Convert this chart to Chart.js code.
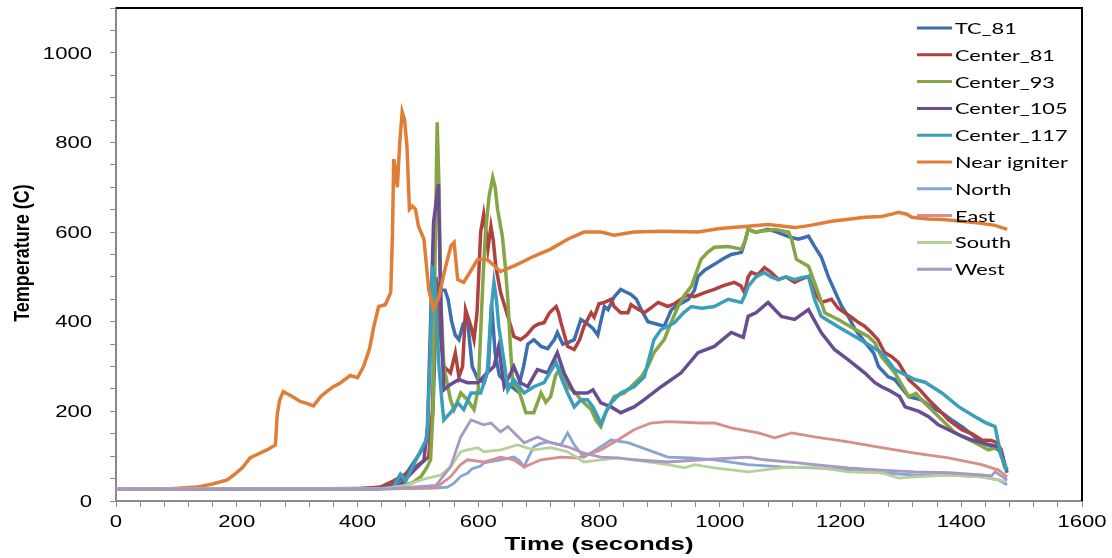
<!DOCTYPE html>
<html>
<head>
<meta charset="utf-8">
<script src="https://cdn.jsdelivr.net/npm/chart.js@4"></script>
<style>
  body { margin: 0; background: #fff; }
  #wrap { width: 1112px; height: 558px; }
</style>
</head>
<body>
<div id="wrap"><canvas id="temps"></canvas></div>
<script>
// series names and colours
const labels = ['TC_81', 'Center_81', 'Center_93', 'Center_105', 'Center_117', 'Near igniter', 'North', 'East', 'South', 'West'];
const colors = ['#3D6EB0', '#B0413E', '#86A544', '#6A4C93', '#3A9FBA', '#E07E37', '#86A6D6', '#D68F8D', '#B7D09A', '#A898C2'];

// time (s) / temperature (C)
const tc81T = [0,100,200,300,400,430,450,465,480,495,505,515,520,525,530,535,540,545,550,556,562,568,575,582,590,600,610,617,622,628,635,645,655,665,675,682,692,704,715,726,731,740,748,759,770,781,790,798,803,809,815,825,836,842,853,862,870,881,895,908,920,935,948,958,964,975,991,1005,1019,1030,1036,1042,1047,1060,1080,1095,1114,1130,1140,1147,1157,1168,1180,1190,1202,1213,1224,1240,1255,1263,1279,1290,1313,1334,1350,1368,1385,1401,1418,1434,1450,1462,1468,1476];
const tc81V = [27,27,27,27,28,29,32,40,60,90,110,135,150,200,420,480,470,470,450,400,370,360,395,405,300,270,265,300,440,330,280,265,255,245,300,350,360,345,340,360,376,350,353,360,405,395,385,370,400,434,427,455,472,468,461,450,427,400,395,390,427,440,450,470,501,515,528,540,550,553,555,580,606,600,606,600,590,584,588,591,568,545,500,470,434,412,383,355,330,300,277,271,233,226,210,197,180,166,148,130,122,114,100,63];

const c81T = [0,400,438,460,483,505,518,524,530,536,543,554,562,568,574,579,588,593,598,604,609,613,616,621,625,629,637,649,659,670,680,692,700,709,718,729,733,737,748,759,768,775,787,792,800,809,820,825,836,848,853,862,875,885,898,914,925,936,946,958,975,991,1005,1024,1035,1041,1047,1052,1063,1074,1085,1097,1110,1124,1135,1147,1157,1168,1185,1196,1207,1218,1230,1240,1251,1262,1273,1285,1296,1313,1330,1346,1362,1379,1401,1418,1434,1450,1459,1466,1473];
const c81V = [27,27,31,45,63,85,98,200,500,380,300,286,330,277,300,427,389,360,420,600,640,600,562,613,580,524,465,412,367,360,370,389,395,398,420,434,420,398,345,338,360,389,420,410,440,443,450,434,420,420,438,430,420,430,443,434,440,450,460,456,465,472,480,488,480,465,500,510,505,521,510,494,500,488,495,501,465,443,450,430,420,410,398,390,376,360,331,322,309,271,250,226,205,181,159,150,136,135,130,115,76];

const c93T = [0,430,460,490,505,515,521,525,528,532,535,538,543,554,560,571,582,593,600,604,608,612,618,624,628,632,640,645,649,653,657,667,679,692,704,712,720,728,737,748,759,770,787,795,803,812,825,842,853,870,881,891,908,920,931,942,953,969,980,991,1014,1036,1042,1047,1058,1069,1091,1114,1119,1127,1147,1163,1174,1196,1224,1246,1257,1268,1290,1313,1325,1334,1356,1390,1423,1445,1462,1468,1473];
const c93V = [27,27,30,40,54,75,92,200,500,845,700,450,300,226,204,241,226,204,250,376,500,600,680,722,700,651,590,520,450,350,264,248,197,197,241,220,233,280,300,255,245,226,204,180,166,200,233,241,255,277,300,331,360,400,434,460,479,539,555,566,568,562,580,606,600,602,606,600,584,539,524,465,420,405,383,367,353,322,286,233,240,226,197,152,130,114,121,95,70];

const c105T = [0,430,470,495,510,516,526,534,537,540,543,554,568,582,599,615,626,634,643,659,670,682,698,715,731,742,759,781,790,803,820,836,858,875,903,936,964,991,1019,1039,1047,1060,1080,1102,1124,1147,1168,1190,1213,1240,1257,1268,1279,1298,1307,1330,1346,1362,1379,1400,1418,1440,1462,1468,1473];
const c105V = [27,27,35,70,90,166,622,707,500,350,248,260,271,264,264,286,300,345,255,300,264,255,293,286,331,286,241,241,248,219,210,197,210,226,255,286,331,345,376,365,412,420,443,412,405,427,376,338,315,286,264,255,248,233,210,200,188,170,159,145,136,128,121,100,76];

const c117T = [0,430,460,465,471,480,500,515,520,524,526,530,535,540,543,554,566,576,588,604,615,621,626,630,634,643,649,659,676,692,709,720,729,737,748,759,770,781,790,798,803,812,820,836,858,875,891,903,914,925,940,953,970,991,1014,1036,1042,1047,1060,1074,1085,1097,1110,1124,1135,1147,1157,1168,1196,1224,1251,1268,1290,1323,1340,1368,1396,1423,1440,1456,1466,1476];
const c117V = [27,27,30,45,60,45,100,140,300,520,517,440,300,220,181,197,219,204,241,241,286,420,488,450,389,309,248,271,241,255,264,290,309,277,241,210,226,226,210,188,172,200,219,241,255,277,360,383,390,398,420,434,430,434,450,443,460,479,500,510,500,494,500,494,498,501,450,412,389,367,345,331,293,271,265,241,210,188,175,166,100,70];

const igniterT = [0,85,134,160,184,195,210,222,237,250,264,267,271,277,285,292,305,316,327,339,350,360,372,388,400,410,420,427,435,446,455,458,460,463,466,470,474,478,482,486,491,496,501,510,518,526,535,542,549,555,560,566,576,587,599,615,637,665,692,720,748,775,803,825,858,903,964,1000,1047,1080,1124,1150,1185,1210,1240,1268,1285,1296,1310,1318,1346,1370,1401,1430,1456,1476];
const igniterV = [27,27,31,38,47,58,75,96,106,114,125,192,225,244,238,233,222,218,212,233,245,255,264,280,275,300,340,389,434,438,465,600,763,740,700,800,868,850,790,651,658,651,613,584,472,427,456,500,539,570,577,494,488,512,539,539,512,528,546,562,584,600,600,593,600,602,600,608,613,617,610,615,624,628,633,635,640,644,640,633,629,628,624,620,615,606];

const northT = [0,450,530,549,560,571,582,590,604,609,637,659,668,676,684,692,703,715,737,748,759,775,790,803,820,848,881,914,953,991,1047,1102,1157,1213,1268,1323,1379,1434,1462,1476];
const northV = [27,27,29,31,40,55,62,72,78,85,92,98,90,76,100,121,128,132,125,152,125,98,110,121,136,130,114,98,96,92,81,76,74,69,63,58,58,54,47,36];

const eastT = [0,450,530,554,570,582,609,637,659,676,704,737,765,803,831,858,886,914,969,991,1019,1064,1091,1119,1157,1213,1268,1323,1379,1434,1462,1476];
const eastV = [27,27,30,54,80,92,87,98,92,76,92,98,96,114,136,159,174,177,174,174,163,152,141,152,143,132,119,107,96,81,69,54];

const southT = [0,440,480,505,538,554,571,582,599,609,637,665,692,720,748,760,775,803,831,858,914,942,958,991,1047,1102,1157,1213,1268,1296,1323,1379,1434,1476];
const southV = [27,27,35,47,58,76,110,114,119,110,114,125,114,119,110,100,87,92,96,92,81,74,81,74,65,74,76,65,63,51,54,58,54,43];

const westT = [0,450,530,554,571,588,609,621,637,649,676,698,720,748,775,803,831,858,914,969,1047,1074,1130,1157,1213,1268,1323,1379,1434,1450,1456,1476];
const westV = [27,27,35,76,143,181,170,174,154,166,130,143,130,121,107,98,96,92,87,92,98,92,85,81,74,69,65,63,58,56,65,47];

const seriesT = [tc81T, c81T, c93T, c105T, c117T, igniterT, northT, eastT, southT, westT];
const seriesV = [tc81V, c81V, c93V, c105V, c117V, igniterV, northV, eastV, southV, westV];

// x / y tick label values
const xMajor = [0, 200, 400, 600, 800, 1000, 1200, 1400, 1600];
const yMajor = [0, 200, 400, 600, 800, 1000];

const datasets = labels.map((name, i) => ({
    label: name,
    data: seriesT[i].map((t, k) => ({ x: t, y: seriesV[i][k] })),
    borderColor: colors[i],
    backgroundColor: colors[i],
    borderWidth: i < 6 ? 3.5 : 2.8,
    pointRadius: 0,
    tension: 0,
    order: 10 - i
}));

// the original picture is stretched sideways, so text is drawn with a x-scale
function wideText(ctx, text, x, y, sx, align, rotate) {
    ctx.save();
    ctx.translate(x, y);
    ctx.scale(sx, 1);
    if (rotate) ctx.rotate(-Math.PI / 2);
    ctx.textAlign = align;
    ctx.fillText(text, 0, 0);
    ctx.restore();
}

// tick labels, axis titles, legend and the black frame on top/right
const decorations = {
    id: 'decorations',
    afterDraw(chart) {
        const ctx = chart.ctx;
        const a = chart.chartArea;
        const xs = chart.scales.x;
        const ys = chart.scales.y;
        ctx.save();
        ctx.strokeStyle = '#000';
        ctx.lineWidth = 2;
        ctx.beginPath();
        ctx.moveTo(a.left, a.top);
        ctx.lineTo(a.right, a.top);
        ctx.lineTo(a.right, a.bottom);
        ctx.stroke();

        ctx.fillStyle = '#000';
        ctx.textBaseline = 'middle';
        ctx.font = '17px "Liberation Sans", Arial, sans-serif';
        yMajor.forEach(v => wideText(ctx, String(v), 92, ys.getPixelForValue(v) + 1, 1.3, 'right'));
        xMajor.forEach(v => wideText(ctx, String(v), xs.getPixelForValue(v), 522, 1.3, 'center'));

        ctx.font = 'bold 19px "Liberation Sans", Arial, sans-serif';
        wideText(ctx, 'Time (seconds)', 599, 545, 1.36, 'center');
        ctx.font = 'bold 18px "Liberation Sans", Arial, sans-serif';
        wideText(ctx, 'Temperature (C)', 23, 253, 1.2, 'center', true);

        ctx.font = '15.5px Lato, "Open Sans", sans-serif';
        chart.data.datasets.forEach((ds, i) => {
            const y = 28 + i * 26.8;
            ctx.strokeStyle = ds.borderColor;
            ctx.lineWidth = 3;
            ctx.beginPath();
            ctx.moveTo(917, y);
            ctx.lineTo(952, y);
            ctx.stroke();
            wideText(ctx, ds.label, 955, y + 1, 1.4, 'left');
        });
        ctx.restore();
    }
};

const ctx = document.getElementById('temps').getContext('2d');

new Chart(ctx, {
    type: 'line',
    data: { datasets: datasets },
    options: {
        responsive: true,
        maintainAspectRatio: false,
        animation: false,
        layout: { padding: { left: 0, right: 30, top: 8, bottom: 0 } },
        plugins: {
            legend: { display: false },
            tooltip: { enabled: false }
        },
        scales: {
            x: {
                type: 'linear',
                min: 0,
                max: 1600,
                border: { color: '#8a8a8a', width: 2 },
                grid: { drawOnChartArea: false, tickLength: 6, color: '#8a8a8a' },
                ticks: { stepSize: 40, autoSkip: false, display: false },
                title: { display: false },
                afterFit(scale) {
                    scale.height = 57;
                    scale.paddingLeft = 0;
                    scale.paddingRight = 0;
                }
            },
            y: {
                min: 0,
                max: 1100,
                border: { color: '#8a8a8a', width: 2 },
                grid: { drawOnChartArea: false, tickLength: 6, color: '#8a8a8a' },
                ticks: { stepSize: 50, autoSkip: false, display: false },
                title: { display: false },
                afterFit(scale) {
                    scale.width = 116;
                    scale.paddingTop = 0;
                    scale.paddingBottom = 0;
                }
            }
        }
    },
    plugins: [decorations]
});
</script>
</body>
</html>
